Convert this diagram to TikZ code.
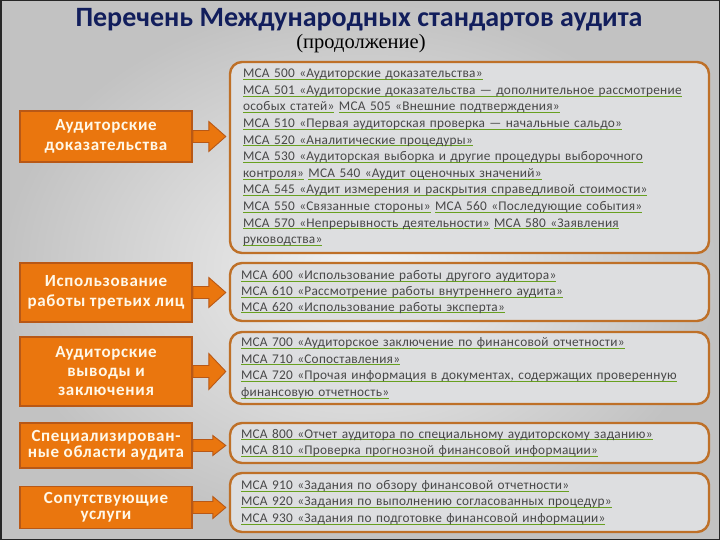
\documentclass[tikz,border=0pt]{standalone}
\usepackage{fontspec}
\setmainfont{Carlito}
\newfontfamily\oldserif{Liberation Serif}
\newfontfamily\lstfont[LetterSpace=2]{Carlito}
\newfontfamily\grpfont[LetterSpace=4]{Carlito}
\usepackage{xcolor}
\usetikzlibrary{calc}

\definecolor{titleblue}{RGB}{18,30,92}
\definecolor{grporange}{RGB}{234,118,14}
\definecolor{grpedge}{RGB}{184,88,22}
\definecolor{lstfill}{RGB}{221,222,224}
\definecolor{lstedge}{RGB}{190,112,40}
\definecolor{lsttext}{RGB}{72,72,72}
\definecolor{lnkgreen}{RGB}{104,160,32}
\definecolor{grptext}{RGB}{255,248,232}

% underlined standard title
\newcommand\lnk[1]{\leavevmode\setbox0\hbox{#1}\rlap{\color{lnkgreen}\rule[-2.2pt]{\wd0}{0.9pt}}\box0\relax}

% block arrow from group box to list box
\newcommand\grparrow[4]{%
  \filldraw[grparrowstyle] let \p1=(#1.east), \p2=(#2.west) in
    (\x1,\y1+6pt) -- (\x2-3pt-#4pt,\y1+6pt) -- (\x2-3pt-#4pt,\y1+#3pt) -- (\x2-3pt,\y1)
    -- (\x2-3pt-#4pt,\y1-#3pt) -- (\x2-3pt-#4pt,\y1-6pt) -- (\x1,\y1-6pt) -- cycle;}

\tikzset{
  grpbox/.style={draw=grpedge, line width=1.6pt, fill=grporange, text=grptext,
    minimum width=172pt, align=center, inner sep=2pt},
  lstbox/.style={draw=lstedge, line width=2.4pt, fill=lstfill, text=lsttext,
    rounded corners=12pt, text width=457pt, inner xsep=11pt, align=left,
    font=\lstfont\fontsize{13.3}{16.6}\selectfont},
  grparrowstyle/.style={fill=grporange, draw=grpedge, line width=0.9pt}
}

\begin{document}
\begin{tikzpicture}[x=1pt,y=-1pt]
\useasboundingbox (0,0) rectangle (720,540);
% background
\shade[inner color=gray!10, outer color=gray!48] (0,0) rectangle (720,540);
\draw[black!85, line width=3pt] (0,0) rectangle (720,540);

% title
\node[text=titleblue, font=\fontsize{28}{30}\bfseries\selectfont] (title) at (359,20)
  {Перечень Международных стандартов аудита};
\node[font=\oldserif\fontsize{20.5}{22}\selectfont] (cont) at (361,44) {(продолжение)};

% lists of standards
\node[lstbox, minimum height=191pt, inner xsep=13pt, text width=453pt] (s1) at (469.5,157.5) {%
\lnk{МСА 500 «Аудиторские доказательства»}\\
\lnk{МСА 501 «Аудиторские доказательства — дополнительное рассмотрение}\\
\lnk{особых статей»} \lnk{МСА 505 «Внешние подтверждения»}\\
\lnk{МСА 510 «Первая аудиторская проверка — начальные сальдо»}\\
\lnk{МСА 520 «Аналитические процедуры»}\\
\lnk{МСА 530 «Аудиторская выборка и другие процедуры выборочного}\\
\lnk{контроля»} \lnk{МСА 540 «Аудит оценочных значений»}\\
\lnk{МСА 545 «Аудит измерения и раскрытия справедливой стоимости»}\\
\lnk{МСА 550 «Связанные стороны»} \lnk{МСА 560 «Последующие события»}\\
\lnk{МСА 570 «Непрерывность деятельности»} \lnk{МСА 580 «Заявления}\\
\lnk{руководства»}};

\node[lstbox, minimum height=58pt, font=\lstfont\fontsize{13.3}{15.7}\selectfont] (s2) at (469.5,292) {%
\lnk{МСА 600 «Использование работы другого аудитора»}\\
\lnk{МСА 610 «Рассмотрение работы внутреннего аудита»}\\
\lnk{МСА 620 «Использование работы эксперта»}};

\node[lstbox, minimum height=72pt] (s3) at (469.5,368) {%
\lnk{МСА 700 «Аудиторское заключение по финансовой отчетности»}\\
\lnk{МСА 710 «Сопоставления»}\\
\lnk{МСА 720 «Прочая информация в документах, содержащих проверенную}\\
\lnk{финансовую отчетность»}};

\node[lstbox, minimum height=40pt] (s4) at (469.5,443) {%
\lnk{МСА 800 «Отчет аудитора по специальному аудиторскому заданию»}\\
\lnk{МСА 810 «Проверка прогнозной финансовой информации»}};

\node[lstbox, minimum height=59pt] (s5) at (469.5,502.5) {%
\lnk{МСА 910 «Задания по обзору финансовой отчетности»}\\
\lnk{МСА 920 «Задания по выполнению согласованных процедур»}\\
\lnk{МСА 930 «Задания по подготовке финансовой информации»}};

% groups
\node[grpbox, minimum height=51pt, font=\grpfont\fontsize{17}{20}\bfseries\selectfont] (g1) at (106,136.5)
  {Аудиторские\\доказательства};
\node[grpbox, minimum height=59pt, font=\grpfont\fontsize{17}{20}\bfseries\selectfont] (g2) at (106,292.5)
  {Использование\\работы третьих лиц};
\node[grpbox, minimum height=69pt, font=\grpfont\fontsize{17}{19}\bfseries\selectfont] (g3) at (106,371.5)
  {Аудиторские\\выводы и\\заключения};
\node[grpbox, minimum height=45pt, font=\grpfont\fontsize{17}{16.5}\bfseries\selectfont] (g4) at (106,445.5)
  {Специализирован-\\ные области аудита};
\node[grpbox, minimum height=42pt, font=\grpfont\fontsize{17}{16.5}\bfseries\selectfont] (g5) at (106,507.5)
  {Сопутствующие\\услуги};

% arrows
\grparrow{g1}{s1}{15}{17}
\grparrow{g2}{s2}{15}{17}
\grparrow{g3}{s3}{18}{17}
\grparrow{g4}{s4}{10}{13}
\grparrow{g5}{s5}{11}{13}
\end{tikzpicture}
\end{document}
